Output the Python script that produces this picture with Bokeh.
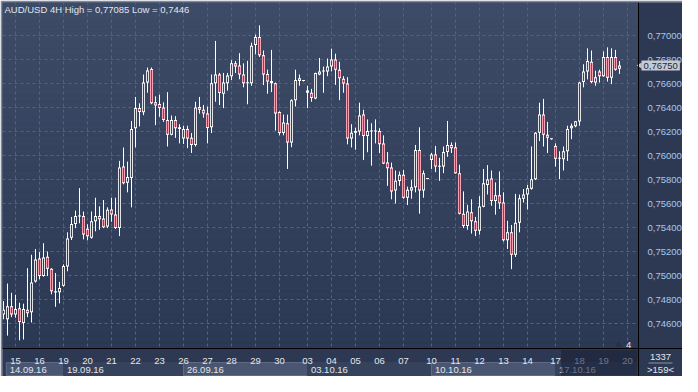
import numpy as np
from bokeh.plotting import figure
from bokeh.models import (Range1d, FixedTicker, CustomJSTickFormatter, Label,
                          BoxAnnotation, ColumnDataSource)
from bokeh.embed import file_html
from bokeh.resources import INLINE

# ---------------- data (AUD/USD, 4H bars) ----------------
opens = [0.74675, 0.74635, 0.74744, 0.74675, 0.74728, 0.74605, 0.74715, 0.74693, 0.74949, 0.75141,
         0.74995, 0.75157, 0.75056, 0.74869, 0.74861, 0.74915, 0.75075, 0.75315, 0.75429, 0.75491,
         0.75496, 0.75389, 0.75315, 0.75453, 0.75496, 0.75475, 0.75408, 0.75549, 0.75509, 0.75395,
         0.75909, 0.75773, 0.75813, 0.76227, 0.76395, 0.76360, 0.76608, 0.76720, 0.76443, 0.76429,
         0.76400, 0.76296, 0.76173, 0.76296, 0.76235, 0.76141, 0.76221, 0.76147, 0.76088, 0.76405,
         0.76381, 0.76349, 0.76235, 0.76603, 0.76675, 0.76515, 0.76603, 0.76661, 0.76768, 0.76749,
         0.76675, 0.76603, 0.76603, 0.76920, 0.76987, 0.76835, 0.76680, 0.76621, 0.76603, 0.76363,
         0.76187, 0.76269, 0.76109, 0.76461, 0.76621, 0.76621, 0.76541, 0.76523, 0.76475, 0.76675,
         0.76699, 0.76701, 0.76741, 0.76800, 0.76715, 0.76640, 0.76600, 0.76141, 0.76189, 0.76200,
         0.76341, 0.76163, 0.76200, 0.76205, 0.76205, 0.76101, 0.75941, 0.75901, 0.75709, 0.75787,
         0.75840, 0.75648, 0.75709, 0.75736, 0.76045, 0.75709, 0.75805, 0.75963, 0.76008, 0.75915,
         0.75909, 0.76029, 0.76088, 0.76069, 0.75853, 0.75515, 0.75413, 0.75528, 0.75453, 0.75373,
         0.75573, 0.75755, 0.75808, 0.75621, 0.75669, 0.75608, 0.75293, 0.75360, 0.75173, 0.75440,
         0.75640, 0.75675, 0.75723, 0.75803, 0.76189, 0.76341, 0.76173, 0.76136, 0.76080, 0.75973,
         0.75968, 0.76035, 0.76227, 0.76243, 0.76283, 0.76613, 0.76701, 0.76781, 0.76608, 0.76701,
         0.76661, 0.76821, 0.76648, 0.76821, 0.76723]
highs = [0.74787, 0.74933, 0.74856, 0.74840, 0.74773, 0.74765, 0.75061, 0.75173, 0.75221, 0.75195,
         0.75269, 0.75200, 0.75060, 0.75021, 0.74947, 0.75093, 0.75360, 0.75488, 0.75541, 0.75728,
         0.75533, 0.75427, 0.75533, 0.75648, 0.75576, 0.75629, 0.75568, 0.75648, 0.75648, 0.75955,
         0.76067, 0.75949, 0.76288, 0.76488, 0.76435, 0.76675, 0.76733, 0.76733, 0.76493, 0.76507,
         0.76443, 0.76528, 0.76333, 0.76328, 0.76261, 0.76248, 0.76248, 0.76187, 0.76448, 0.76488,
         0.76421, 0.76408, 0.76675, 0.76955, 0.76688, 0.76688, 0.76688, 0.76795, 0.76787, 0.76853,
         0.76768, 0.76789, 0.76941, 0.77008, 0.77085, 0.76875, 0.76715, 0.76880, 0.76608, 0.76368,
         0.76341, 0.76341, 0.76469, 0.76715, 0.76675, 0.76625, 0.76581, 0.76555, 0.76690, 0.76813,
         0.76741, 0.76808, 0.76890, 0.76848, 0.76781, 0.76661, 0.76653, 0.76261, 0.76232, 0.76440,
         0.76381, 0.76301, 0.76269, 0.76301, 0.76227, 0.76168, 0.76029, 0.75941, 0.75875, 0.75867,
         0.75880, 0.75741, 0.75795, 0.76088, 0.76235, 0.75875, 0.75809, 0.76021, 0.76080, 0.75981,
         0.76075, 0.76288, 0.76109, 0.76109, 0.75923, 0.75701, 0.75589, 0.75635, 0.75488, 0.75661,
         0.75888, 0.75920, 0.75875, 0.75776, 0.75867, 0.75693, 0.75456, 0.75421, 0.75680, 0.75675,
         0.75720, 0.75755, 0.76075, 0.76195, 0.76440, 0.76472, 0.76280, 0.76140, 0.76101, 0.76035,
         0.76075, 0.76248, 0.76267, 0.76288, 0.76613, 0.76760, 0.76893, 0.76875, 0.76707, 0.76715,
         0.76867, 0.76901, 0.76893, 0.76880, 0.76787]
lows = [0.74635, 0.74499, 0.74653, 0.74648, 0.74460, 0.74467, 0.74653, 0.74608, 0.74941, 0.74968,
        0.74990, 0.74995, 0.74843, 0.74739, 0.74768, 0.74907, 0.75035, 0.75296, 0.75395, 0.75435,
        0.75301, 0.75293, 0.75307, 0.75368, 0.75381, 0.75395, 0.75395, 0.75448, 0.75387, 0.75328,
        0.75760, 0.75693, 0.75568, 0.76067, 0.76243, 0.76336, 0.76523, 0.76427, 0.76253, 0.76323,
        0.76280, 0.76075, 0.76168, 0.76147, 0.76101, 0.76096, 0.76061, 0.76021, 0.76075, 0.76349,
        0.76315, 0.76101, 0.76187, 0.76448, 0.76421, 0.76395, 0.76541, 0.76629, 0.76688, 0.76635,
        0.76568, 0.76427, 0.76581, 0.76843, 0.76821, 0.76587, 0.76515, 0.76528, 0.76208, 0.76168,
        0.76168, 0.75888, 0.76069, 0.76408, 0.76581, 0.76617, 0.76395, 0.76448, 0.76469, 0.76669,
        0.76523, 0.76661, 0.76701, 0.76589, 0.76461, 0.76523, 0.76093, 0.76067, 0.76048, 0.76168,
        0.75963, 0.76027, 0.75915, 0.76101, 0.76021, 0.75928, 0.75747, 0.75635, 0.75600, 0.75747,
        0.75640, 0.75587, 0.75640, 0.75693, 0.75515, 0.75648, 0.75801, 0.75888, 0.75861, 0.75789,
        0.75853, 0.75989, 0.76021, 0.75848, 0.75509, 0.75395, 0.75381, 0.75349, 0.75328, 0.75341,
        0.75568, 0.75675, 0.75581, 0.75507, 0.75555, 0.75283, 0.75221, 0.75053, 0.75155, 0.75360,
        0.75608, 0.75549, 0.75715, 0.75795, 0.76120, 0.76075, 0.76021, 0.76132, 0.75907, 0.75803,
        0.75875, 0.75955, 0.76136, 0.76235, 0.76248, 0.76568, 0.76635, 0.76603, 0.76581, 0.76608,
        0.76656, 0.76616, 0.76595, 0.76707, 0.76680]
closes = [0.74715, 0.74744, 0.74675, 0.74720, 0.74613, 0.74720, 0.74685, 0.74941, 0.75133, 0.74995,
          0.75149, 0.75056, 0.74869, 0.74859, 0.74896, 0.75080, 0.75309, 0.75429, 0.75496, 0.75496,
          0.75341, 0.75328, 0.75453, 0.75496, 0.75469, 0.75403, 0.75547, 0.75509, 0.75395, 0.75901,
          0.75768, 0.75821, 0.76221, 0.76395, 0.76363, 0.76608, 0.76709, 0.76435, 0.76416, 0.76395,
          0.76296, 0.76173, 0.76296, 0.76227, 0.76221, 0.76221, 0.76141, 0.76088, 0.76400, 0.76381,
          0.76349, 0.76229, 0.76603, 0.76675, 0.76520, 0.76608, 0.76667, 0.76768, 0.76741, 0.76675,
          0.76603, 0.76608, 0.76915, 0.76987, 0.76835, 0.76675, 0.76616, 0.76603, 0.76349, 0.76187,
          0.76275, 0.76109, 0.76461, 0.76629, 0.76643, 0.76621, 0.76523, 0.76480, 0.76688, 0.76701,
          0.76701, 0.76741, 0.76800, 0.76715, 0.76643, 0.76600, 0.76141, 0.76189, 0.76205, 0.76333,
          0.76163, 0.76205, 0.76205, 0.76200, 0.76093, 0.75933, 0.75893, 0.75701, 0.75789, 0.75840,
          0.75648, 0.75715, 0.75736, 0.76045, 0.75709, 0.75853, 0.75805, 0.76008, 0.75909, 0.75907,
          0.76029, 0.76088, 0.76061, 0.75853, 0.75515, 0.75413, 0.75533, 0.75453, 0.75373, 0.75576,
          0.75768, 0.75800, 0.75621, 0.75669, 0.75603, 0.75293, 0.75360, 0.75173, 0.75440, 0.75643,
          0.75675, 0.75728, 0.75803, 0.76189, 0.76341, 0.76173, 0.76147, 0.76136, 0.75973, 0.75976,
          0.76035, 0.76221, 0.76248, 0.76285, 0.76608, 0.76701, 0.76787, 0.76613, 0.76653, 0.76661,
          0.76821, 0.76648, 0.76821, 0.76715, 0.76750]

# bar index of the first bar of each trading day, and the day labels
day_start_bar = [4, 10, 16, 22, 28, 34, 40, 46, 52, 58, 64, 70, 77, 83, 89, 95, 101, 108,
                 114, 120, 126, 132, 139, 145, 151, 157]
day_labels = ["15", "16", "19", "20", "21", "22", "23", "26", "27", "28", "29", "30", "03",
              "04", "05", "06", "07", "10", "11", "12", "13", "14", "17", "18", "19", "20"]
week_start_bar = [1.7, 16, 46, 77, 108, 139]
week_labels = ["14.09.16", "19.09.16", "26.09.16", "03.10.16", "10.10.16", "17.10.16"]
y_ticks = [0.746, 0.748, 0.750, 0.752, 0.754, 0.756, 0.758, 0.760, 0.762, 0.764, 0.766,
           0.768, 0.770]
symbol = "AUD/USD"
timeframe = "4H"
bars_info_top = "1337"
bars_info_bottom = ">159<"
shift_label = "4"

# ---------------- layout / styling ----------------
FONT = "Liberation Sans"
FS = "9.5px"
BG_TOP = np.array([62, 76, 104])
BG_BOT = np.array([44, 57, 84])
STRIP = "#2d3852"
RED = "#ee1440"
W, H = 682, 376
FRAME_W, FRAME_H = W - 2, H - 2          # whole drawing frame
CW, CH = 636, 346                        # chart (price) area in pixels
PPX = 4.0                                # pixels per bar
PPY = 12000.0                            # pixels per price unit

x0 = 0.75
x1 = x0 + CW / PPX
xr = x0 + FRAME_W / PPX
y1 = 0.770 + 33 / PPY
y0 = y1 - CH / PPY
yb = y1 - FRAME_H / PPY

def dx(px):
    return px / PPX

def dy(px):
    return px / PPY

def bg_at(y):
    t = np.clip((y - y0) / (y1 - y0), 0, 1)
    return "#%02x%02x%02x" % tuple((BG_BOT + (BG_TOP - BG_BOT) * t).astype(int))

bar_idx = np.arange(1, len(opens) + 1)
o = np.array(opens); c = np.array(closes)
hi = np.array(highs); lo = np.array(lows)

p = figure(width=W, height=H, x_range=Range1d(x0, xr), y_range=Range1d(yb, y1),
           y_axis_location="right", output_backend="svg", toolbar_location=None,
           min_border_left=2, min_border_right=0, min_border_top=2, min_border_bottom=0)
p.background_fill_color = STRIP
p.border_fill_color = "#7d8aa0"
p.outline_line_color = None

# vertical gradient background of the price area
n = 60
edges = np.linspace(y0, y1, n + 1)
cols = [bg_at((a + b) / 2) for a, b in zip(edges[:-1], edges[1:])]
p.quad(left=x0, right=x1, bottom=edges[:-1], top=edges[1:], fill_color=cols,
       line_color=cols, line_width=1, level="image")

# grid
p.grid.grid_line_color = "#56637f"
p.grid.grid_line_dash = "3 3"
p.grid.grid_line_width = 1

# strips that hold the scales (cover the grid there)
p.quad(left=[x1, x0], right=[xr, xr], bottom=[yb, yb], top=[y1, y0],
       fill_color=STRIP, line_color=None)

# week boxes of the time scale
week_ends = week_start_bar[1:] + [x1]
wk_fill = ["#4a5671" if i % 2 == 0 else "#36425c" for i in range(len(week_labels))]
wk_line = ["#5f6b85" if i % 2 == 0 else "#36425c" for i in range(len(week_labels))]
p.quad(left=week_start_bar, right=week_ends, top=y0 - dy(14), bottom=y0 - dy(27),
       fill_color=wk_fill, line_color=wk_line, line_width=1)

# price scale (right)
ya = p.yaxis[0]
ya.fixed_location = x1
ya.ticker = FixedTicker(ticks=y_ticks)
ya.formatter = CustomJSTickFormatter(code="return tick.toFixed(5).replace('.', ',');")
ya.axis_line_color = "black"
ya.axis_line_width = 1
ya.major_tick_line_color = None
ya.minor_tick_line_color = None
ya.major_label_text_color = "#a8c8f0"
ya.major_label_text_font = FONT
ya.major_label_text_font_size = FS
ya.major_label_standoff = 3

# time scale (bottom) - day numbers
xa = p.xaxis[0]
xa.fixed_location = y0
xa.ticker = FixedTicker(ticks=day_start_bar)
xa.major_label_overrides = {b: lab for b, lab in zip(day_start_bar, day_labels)}
xa.axis_line_color = "black"
xa.axis_line_width = 1
xa.major_tick_line_color = None
xa.minor_tick_line_color = None
xa.major_label_text_color = "#e2e6ee"
xa.major_label_text_font = FONT
xa.major_label_text_font_size = FS
xa.major_label_standoff = 3

# candles: wick, white body frame, then inner fill (red for falling bars)
top = np.maximum(o, c)
bot = np.minimum(o, c)
outer_top = np.maximum(top, bot + dy(1))
src = ColumnDataSource(dict(x=bar_idx, top=outer_top, bottom=bot, hi=hi, lo=lo))
p.segment(x0="x", y0="hi", x1="x", y1="lo", source=src, line_color="white", line_width=1)
p.vbar(x="x", width=dx(3), top="top", bottom="bottom", source=src,
       fill_color="white", line_color=None)
tall = (top - bot) > dy(2.2)
falling = c < o
dn = tall & falling
up = tall & ~falling
src_dn = ColumnDataSource(dict(x=bar_idx[dn], top=top[dn] - dy(1), bottom=bot[dn] + dy(1)))
p.vbar(x="x", width=dx(1.8), top="top", bottom="bottom", source=src_dn,
       fill_color=RED, line_color=None)
src_up = ColumnDataSource(dict(x=bar_idx[up], top=top[up] - dy(1), bottom=bot[up] + dy(1),
                               fill=[bg_at((tt + bb) / 2) for tt, bb in zip(top[up], bot[up])]))
p.vbar(x="x", width=dx(1.3), top="top", bottom="bottom", source=src_up,
       fill_color="fill", line_color=None)

# title text
def fmt(v):
    return ("%.5f" % v).rstrip("0").replace(".", ",")

title = "%s %s High = %s Low = %s" % (symbol, timeframe, fmt(max(highs)), fmt(min(lows)))
p.add_layout(Label(x=x0 + dx(2), y=y1 - dy(1), text=title,
                   text_color="#e2e6ee", text_font=FONT, text_font_size=FS,
                   text_baseline="top"))

# week labels
for ws, wl in zip(week_start_bar, week_labels):
    p.add_layout(Label(x=ws + 0.85, y=y0 - dy(21), text=wl,
                       text_color="#e2e6ee", text_font=FONT, text_font_size=FS,
                       text_baseline="middle", text_align="left"))

# dimmed part of the time scale
p.add_layout(BoxAnnotation(left=140.4, right=x1 - dx(1), top=y0 - dy(1.5), bottom=y0 - dy(27),
                           fill_color="#1a2238", fill_alpha=0.6, line_color=None,
                           level="overlay"))

# corner info
cx = x1 + dx((FRAME_W - CW) / 2)
p.add_layout(Label(x=cx, y=y0 - dy(8), text=bars_info_top,
                   text_color="#e2e6ee", text_font=FONT, text_font_size=FS,
                   text_align="center", text_baseline="middle"))
p.add_layout(BoxAnnotation(left=cx - dx(12), right=cx + dx(12), top=y0 - dy(14),
                           bottom=y0 - dy(15), fill_color="#8a94a8", fill_alpha=1,
                           line_color=None))
p.add_layout(Label(x=cx, y=y0 - dy(21), text=bars_info_bottom,
                   text_color="#e2e6ee", text_font=FONT, text_font_size=FS,
                   text_align="center", text_baseline="middle"))

# chart shift marker
p.add_layout(Label(x=154.8, y=y0 + dy(1), text="\u25b2", text_color="#263049",
                   text_font="DejaVu Sans", text_font_size="8px", text_align="center",
                   text_baseline="bottom"))
p.add_layout(Label(x=157.3, y=y0 + dy(1), text=shift_label, text_color="#e2e6ee",
                   text_font=FONT, text_font_size=FS, text_align="center",
                   text_baseline="bottom"))

# last price tag
p.scatter(x=[x1 + dx(1.5)], y=[closes[-1]], marker="triangle", angle=np.pi / 2, size=6,
          fill_color="#c6cad2", line_color=None)
p.add_layout(Label(x=x1 + dx(3), y=closes[-1],
                   text=("%.5f" % closes[-1]).replace(".", ","),
                   text_color="#1c2740", text_font=FONT, text_font_size=FS,
                   text_baseline="middle", text_align="left",
                   background_fill_color="#c6cad2", background_fill_alpha=1, padding=2))

open("out.html", "w").write(file_html(p, INLINE))
